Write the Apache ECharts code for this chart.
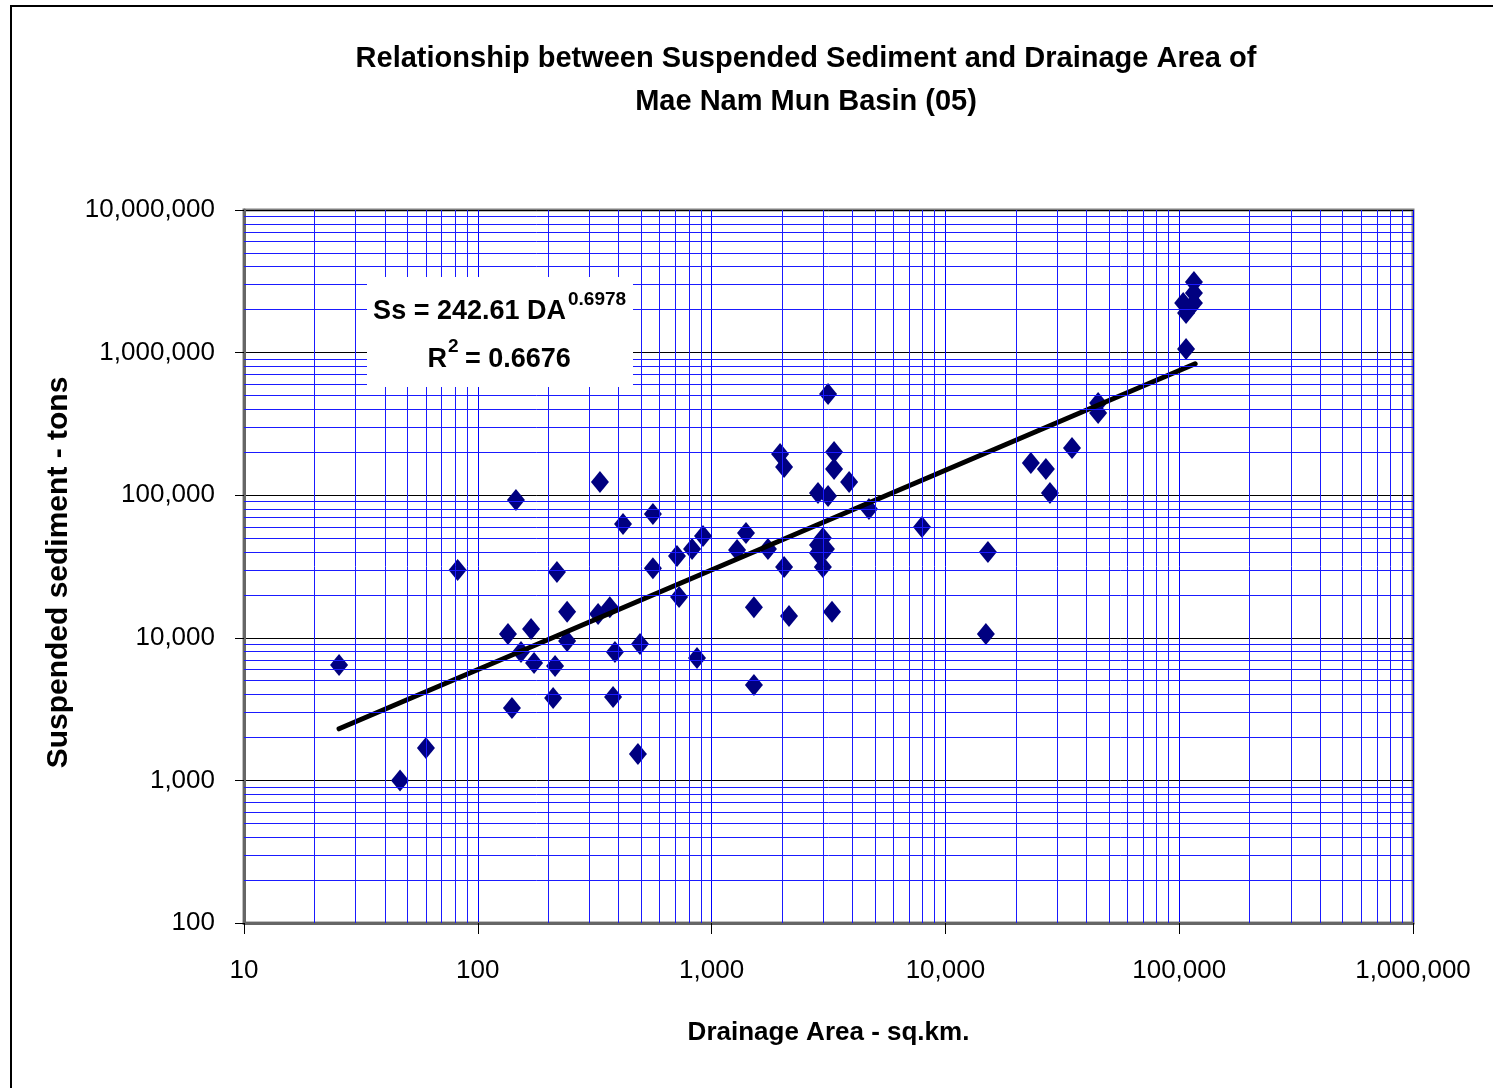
<!DOCTYPE html>
<html>
<head>
<meta charset="utf-8">
<script src="https://cdn.jsdelivr.net/npm/echarts@6/dist/echarts.min.js"></script>
<style>
html,body{margin:0;padding:0;background:#fff;}
#chart{width:1493px;height:1088px;}
</style>
</head>
<body>
<div id="chart"></div>
<script>
// ---- data ----
const areaKm = [25.5, 46.5, 60, 82, 134.6, 140, 145.6, 153, 169, 174,
  210, 214, 218, 241, 241, 327, 333, 367, 379, 386,
  418, 494, 484, 561, 561, 711, 726, 825, 866, 919,
  1285, 1403, 1742, 1963, 2042, 2042, 1517, 2143, 1517, 3148,
  3340, 3340, 3875, 2851, 3148, 2992, 2851, 3083, 2851, 2992,
  3273, 4710, 7940, 15200, 14900, 23200, 26900, 28000, 34800, 45000,
  45000, 107000, 104000, 107000, 115600, 115600, 115600];
const sediment = [6440, 1000, 1690, 29900, 10640, 3220, 92500, 7940, 11540, 6650,
  3790, 6340, 28900, 15200, 9500, 14700, 124000, 16400, 3850, 7940,
  62800, 9060, 1530, 30800, 73800, 37500, 19300, 42000, 7210, 51800,
  41300, 54300, 42000, 194500, 157900, 31400, 16400, 14200, 4670, 513000,
  201000, 152700, 124000, 103500, 98600, 50100, 44800, 42000, 39400, 31400,
  15200, 80000, 59800, 40000, 10640, 168000, 152700, 103500, 214000, 444000,
  377000, 1059000, 2230000, 1897000, 3125000, 2620000, 2230000];
// power trend line end points (straight in log-log)
const trendArea = [25.5, 117000];
const trendSediment = [2300, 835000];
// minor grid values
const minorX = [20,30,40,50,60,70,80,90, 200,300,400,500,600,700,800,900,
  2000,3000,4000,5000,6000,7000,8000,9000, 20000,30000,40000,50000,60000,70000,80000,90000,
  200000,300000,400000,500000,600000,700000,800000,900000];
const minorY = [200,300,400,500,600,700,800,900, 2000,3000,4000,5000,6000,7000,8000,9000,
  20000,30000,40000,50000,60000,70000,80000,90000, 200000,300000,400000,500000,600000,700000,800000,900000,
  2000000,3000000,4000000,5000000,6000000,7000000,8000000,9000000];
const titleLines = ['Relationship between Suspended Sediment and Drainage Area of', 'Mae Nam Mun Basin (05)'];

const sans = "'Liberation Sans', Arial, sans-serif";

function fmt(v){
  const n = Math.round(v);
  return String(n).replace(/\B(?=(\d{3})+(?!\d))/g, ',');
}

const chart = echarts.init(document.getElementById('chart'), null, {renderer:'canvas'});
const gridMarks = [];
minorX.forEach(v => gridMarks.push({xAxis: v}));
minorY.forEach(v => gridMarks.push({yAxis: v}));

chart.setOption({
  backgroundColor: '#fff',
  animation: false,
  title: {
    text: titleLines.join('\n'),
    left: 801,
    textAlign: 'center',
    top: 32,
    textStyle: {fontFamily: sans, fontWeight: 'bold', fontSize: 29, lineHeight: 43, color: '#000'}
  },
  grid: {left: 244, right: 80, top: 210, bottom: 165, show: true, borderColor: '#808080', borderWidth: 3, backgroundColor: 'transparent'},
  xAxis: {
    type: 'log', logBase: 10, min: 10, max: 1000000,
    name: 'Drainage Area - sq.km.', nameLocation: 'middle', nameGap: 97,
    nameTextStyle: {fontFamily: sans, fontWeight: 'bold', fontSize: 26, color: '#000'},
    axisLine: {show: true, onZero: false, lineStyle: {color: '#666', width: 3}},
    axisTick: {show: true, length: 11, lineStyle: {color: '#000', width: 1}},
    axisLabel: {formatter: fmt, fontFamily: sans, fontSize: 26, color: '#000', margin: 35},
    splitLine: {show: true, lineStyle: {color: '#0000ff', width: 1}},
    minorTick: {show: false}
  },
  yAxis: {
    type: 'log', logBase: 10, min: 100, max: 10000000,
    name: 'Suspended sediment - tons', nameLocation: 'middle', nameGap: 167, nameRotate: 90,
    nameTextStyle: {fontFamily: sans, fontWeight: 'bold', fontSize: 30, color: '#000', padding: [0, 12, 0, 0]},
    axisLine: {show: true, onZero: false, lineStyle: {color: '#666', width: 3}},
    axisTick: {show: true, length: 9, lineStyle: {color: '#000', width: 1}},
    axisLabel: {formatter: fmt, fontFamily: sans, fontSize: 26, color: '#000', margin: 29},
    splitLine: {show: true, lineStyle: {color: '#000', width: 1}}
  },
  series: [
    {
      type: 'scatter', name: 'grid', data: [], silent: true, z: 1,
      markLine: {silent: true, symbol: 'none', label: {show: false}, animation: false,
        lineStyle: {color: '#1a1aff', width: 1, type: 'solid'}, emphasis: {disabled: true},
        data: gridMarks}
    },
    {
      type: 'scatter', name: 'Ss', z: 3,
      symbol: 'diamond', symbolSize: [18, 22],
      itemStyle: {color: '#000080', opacity: 1},
      data: areaKm.map((a, i) => [a, sediment[i]])
    },
    {
      type: 'line', name: 'trend', z: 4, symbol: 'none',
      lineStyle: {color: '#000', width: 5, cap: 'round'},
      data: trendArea.map((a, i) => [a, trendSediment[i]])
    }
  ],
  graphic: [
    {type: 'rect', shape: {x: 11, y: 6, width: 1500, height: 1100}, style: {fill: 'none', stroke: '#000', lineWidth: 2}, silent: true, z: 100},
    {type: 'rect', shape: {x: 367, y: 277, width: 266, height: 110}, style: {fill: '#fff'}, z: 50},
    {type: 'text', x: 566, y: 312, style: {text: 'Ss = 242.61 DA', font: "bold 27px " + sans, textAlign: 'right', textVerticalAlign: 'middle', fill: '#000'}, z: 51},
    {type: 'text', x: 568, y: 300, style: {text: '0.6978', font: "bold 19px " + sans, textAlign: 'left', textVerticalAlign: 'middle', fill: '#000'}, z: 51},
    {type: 'text', x: 447, y: 360, style: {text: 'R', font: "bold 27px " + sans, textAlign: 'right', textVerticalAlign: 'middle', fill: '#000'}, z: 51},
    {type: 'text', x: 448, y: 347, style: {text: '2', font: "bold 19px " + sans, textAlign: 'left', textVerticalAlign: 'middle', fill: '#000'}, z: 51},
    {type: 'text', x: 465, y: 360, style: {text: '= 0.6676', font: "bold 27px " + sans, textAlign: 'left', textVerticalAlign: 'middle', fill: '#000'}, z: 51}
  ]
});
</script>
</body>
</html>
